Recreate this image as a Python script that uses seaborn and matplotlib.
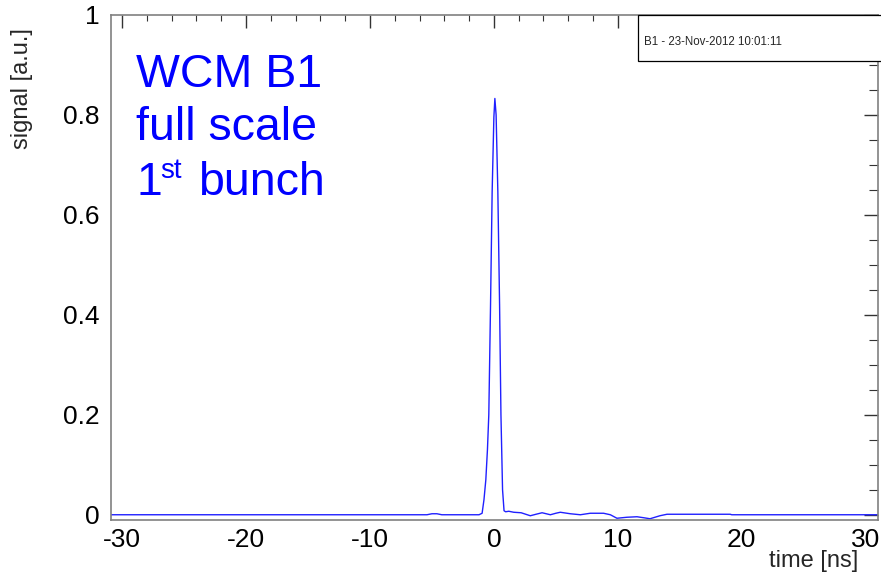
import matplotlib
matplotlib.use("Agg")
import matplotlib.pyplot as plt
import seaborn as sns
import pandas as pd
from matplotlib.ticker import MultipleLocator, FuncFormatter
from matplotlib.patches import Rectangle

# ---- data ----
time_ns = [-30.9, -5.4, -5.0, -4.6, -4.2, -1.2, -0.95, -0.8, -0.65, -0.52,
           -0.41, -0.27, -0.14, 0.0, 0.08, 0.18, 0.32, 0.46, 0.57, 0.70,
           0.82, 0.95, 1.2, 1.6, 2.2, 2.94, 3.4, 3.89, 4.56, 5.0,
           5.36, 6.17, 6.98, 7.78, 8.85, 9.4, 9.93, 10.74, 11.55, 12.1,
           12.6, 13.4, 13.97, 15.85, 19.07, 19.2, 19.6, 31.0]
signal = [0.0, 0.0, 0.002, 0.002, 0.0, 0.0, 0.003, 0.03, 0.07, 0.13,
          0.20, 0.42, 0.646, 0.796, 0.833, 0.80, 0.646, 0.42, 0.20, 0.05,
          0.008, 0.006, 0.007, 0.005, 0.004, -0.002, 0.001, 0.004, 0.0, 0.003,
          0.005, 0.002, 0.0, 0.003, 0.003, 0.0, -0.007, -0.005, -0.004, -0.006,
          -0.008, -0.002, 0.001, 0.001, 0.001, 0.0, 0.0, 0.0]

x_ticks = [-30, -20, -10, 0, 10, 20, 30]
y_ticks = [0, 0.2, 0.4, 0.6, 0.8, 1.0]
title_lines = ["WCM B1", "full scale"]
stamp_text = "B1 - 23-Nov-2012 10:01:11"

df = pd.DataFrame({"time": time_ns, "signal": signal})

sns.set_theme(style="white")
plt.rcParams["font.family"] = ["Liberation Sans", "DejaVu Sans"]

W, H = 881, 582
fig = plt.figure(figsize=(W / 100, H / 100), dpi=100)
fig.patch.set_facecolor("white")
ax = fig.add_axes([111 / W, 1 - 520 / H, (878 - 111) / W, (520 - 15) / H])
ax.set_facecolor("white")

sns.lineplot(data=df, x="time", y="signal", ax=ax, color="#2020ff",
             linewidth=1.0, sort=False, estimator=None)

ax.set_xlim(-30.9, 31.0)
ax.set_ylim(-0.0105, 1.0)

ax.set_xticks(x_ticks)
ax.set_yticks(y_ticks)
ax.xaxis.set_minor_locator(MultipleLocator(2))
ax.yaxis.set_minor_locator(MultipleLocator(0.05))
ax.yaxis.set_major_formatter(FuncFormatter(lambda v, p: "%g" % v))
ax.xaxis.set_major_formatter(FuncFormatter(lambda v, p: "%g" % v))

for s in ax.spines.values():
    s.set_color("#808080")
    s.set_linewidth(1.2)

ax.tick_params(axis="both", which="both", direction="in", top=True, right=True,
               colors="#333333", labelcolor="black")
ax.tick_params(axis="x", which="major", length=9, width=1.0, labelsize=19, pad=6)
ax.tick_params(axis="x", which="minor", length=4.5, width=0.8)
ax.tick_params(axis="y", which="major", length=10, width=1.0, labelsize=19, pad=8)
ax.tick_params(axis="y", which="minor", length=6.5, width=0.8)

ax.set_xlabel("time [ns]", fontsize=17, loc="right")
ax.xaxis.set_label_coords((858 - 111) / (878 - 111), -(550 - 520) / 505)
ax.set_ylabel("signal [a.u.]", fontsize=17, loc="top")
ax.yaxis.set_label_coords(-(111 - 33) / 767, (520 - 28) / 505)

# blue annotation text
blue = "#0000ff"
fx = lambda px: px / W
fy = lambda py: 1 - py / H
fig.text(fx(136), fy(87), title_lines[0], color=blue, fontsize=33.5, va="baseline")
fig.text(fx(136), fy(140), title_lines[1], color=blue, fontsize=33.5, va="baseline")
fig.text(fx(136), fy(195), "1", color=blue, fontsize=33.5, va="baseline")
fig.text(fx(160), fy(178), "st", color=blue, fontsize=20, va="baseline")
fig.text(fx(198), fy(195), "bunch", color=blue, fontsize=33.5, va="baseline")

# stamp box at top right
rect = Rectangle((638 / W, 1 - 61 / H), (W - 638) / W + 0.01, 46 / H,
                 transform=fig.transFigure, facecolor="white",
                 edgecolor="black", linewidth=0.9, zorder=10)
fig.add_artist(rect)
fig.text(644 / W, 1 - 42 / H, stamp_text, fontsize=8.3, va="center",
         ha="left", zorder=11)

fig.savefig("out.png", dpi=100, facecolor="white")
